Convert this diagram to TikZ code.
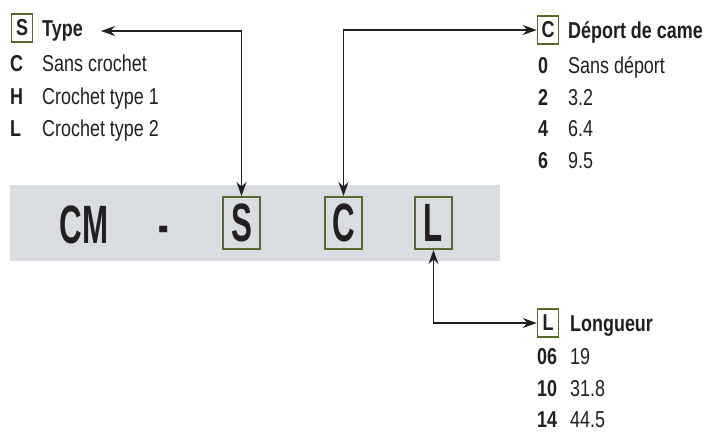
\documentclass[tikz,border=0pt]{standalone}
\usepackage{fontspec}
\setmainfont{Liberation Sans}[FakeStretch=0.78]
\newfontfamily\bigfont{Liberation Sans}[FakeStretch=0.58]
\usetikzlibrary{arrows.meta}
\definecolor{ink}{HTML}{231F20}
\definecolor{olive}{HTML}{566A2C}
\definecolor{barfill}{HTML}{D9DCE0}
\tikzset{
  bigbox/.style={draw=olive, line width=2pt, minimum width=37pt, minimum height=52pt, inner sep=0pt, font=\bigfont\bfseries\fontsize{54}{54}\selectfont, text=ink},
  bigtxt/.style={anchor=base, inner sep=0pt, font=\bigfont\bfseries\fontsize{54}{54}\selectfont, text=ink},
  smallbox/.style={draw=olive, line width=1.5pt, minimum width=21pt, minimum height=28pt, inner sep=0pt, font=\bfseries\fontsize{23}{23}\selectfont, text=ink},
  head/.style={anchor=base west, inner sep=0pt, font=\bfseries\fontsize{23}{23}\selectfont, text=ink},
  key/.style={anchor=base west, inner sep=0pt, font=\bfseries\fontsize{23}{23}\selectfont, text=ink},
  val/.style={anchor=base west, inner sep=0pt, font=\fontsize{23}{23}\selectfont, text=ink},
  conn/.style={line width=1.3pt, ink},
  tips/.style={{Stealth[length=14pt,width=10pt]}-{Stealth[length=14pt,width=10pt]}}
}
\begin{document}
\begin{tikzpicture}[x=1pt,y=-1pt]
\useasboundingbox (0,0) rectangle (712,432);
% bar
\node[fill=barfill, minimum width=490pt, minimum height=76pt, inner sep=0pt, anchor=north west] (bar) at (10,185) {};
\node[bigtxt] (cm) at (84,243) {CM};
\node[bigtxt] (dash) at (164,243) {-};
\node[bigbox] (Sbig) at (241.5,223) {S};
\node[bigbox] (Cbig) at (343.5,223) {C};
\node[bigbox] (Lbig) at (433.5,223) {L};
% Type block
\node[smallbox] (Ss) at (22,28) {S};
\node[head] (typeh) at (42,36) {Type};
\node[key] (k1) at (10,71) {C};
\node[val] (v1) at (42,71) {Sans crochet};
\node[key] (k2) at (10,104) {H};
\node[val] (v2) at (42,104) {Crochet type 1};
\node[key] (k3) at (10,136) {L};
\node[val] (v3) at (42,136) {Crochet type 2};
% Deport block
\node[smallbox] (Cs) at (548,30) {C};
\node[head] (deph) at (568,38) {Déport de came};
\node[key] (d0k) at (538,73) {0};
\node[val] (d0v) at (568,73) {Sans déport};
\node[key] (d2k) at (538,105) {2};
\node[val] (d2v) at (568,105) {3.2};
\node[key] (d4k) at (538,136) {4};
\node[val] (d4v) at (568,136) {6.4};
\node[key] (d6k) at (538,168) {6};
\node[val] (d6v) at (568,168) {9.5};
% Longueur block
\node[smallbox] (Ls) at (548,323) {L};
\node[head] (lonh) at (570,331) {Longueur};
\node[key] (l1k) at (537,364) {06};
\node[val] (l1v) at (570,364) {19};
\node[key] (l2k) at (537,396) {10};
\node[val] (l2v) at (570,396) {31.8};
\node[key] (l3k) at (537,427) {14};
\node[val] (l3v) at (570,427) {44.5};
% connectors
\coordinate (tA) at (101,31);
\draw[conn,tips] (tA) -| (Sbig.north);
\draw[conn,tips] (Cbig.north) |- (Cs.west);
\draw[conn,tips] (Lbig.south) |- (Ls.west);
\end{tikzpicture}
\end{document}
